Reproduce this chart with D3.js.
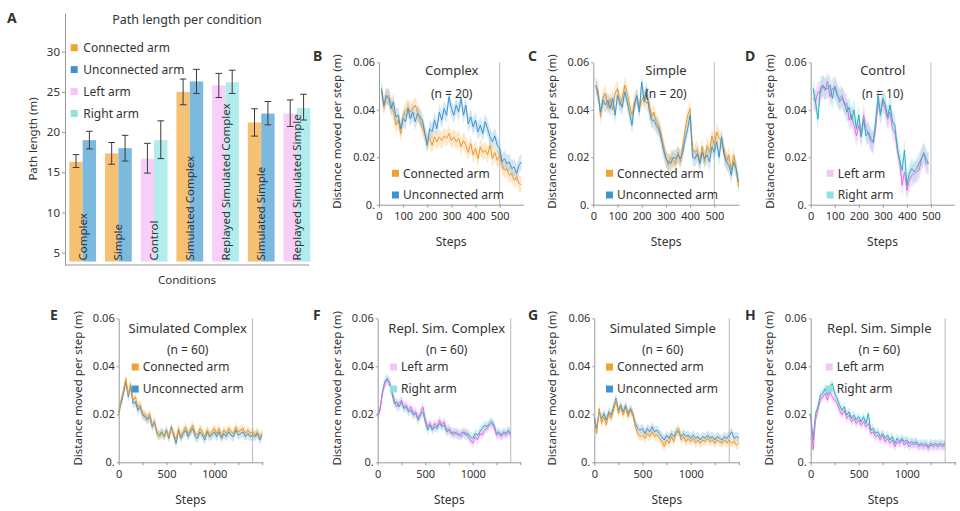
<!DOCTYPE html>
<html>
<head>
<meta charset="utf-8">
<script src="https://cdn.jsdelivr.net/npm/d3@7"></script>
<style>
  body { margin: 0; background: #fff; }
  text { font-family: "Noto Sans", sans-serif; fill: #333; }
</style>
</head>
<body>
<svg id="fig" width="960" height="511"></svg>
<script>
// ---------------- panel A : path length per condition
var conditions = ["Complex", "Simple", "Control", "Simulated Complex",
  "Replayed Simulated Complex", "Simulated Simple", "Replayed Simulated Simple"];
var pairKind = ["cu", "cu", "lr", "cu", "lr", "cu", "lr"];
var firstMean  = [16.3, 17.35, 16.7, 25.0, 25.8, 21.2, 22.3];
var firstLo    = [15.6, 16.0, 14.9, 23.4, 24.3, 19.5, 20.7];
var firstHi    = [17.2, 18.7, 18.6, 26.6, 27.3, 22.9, 24.0];
var secondMean = [19.0, 18.0, 19.0, 26.3, 26.2, 22.3, 23.0];
var secondLo   = [17.9, 16.4, 16.7, 24.8, 24.8, 20.9, 21.5];
var secondHi   = [20.1, 19.6, 21.4, 27.8, 27.7, 23.8, 24.7];
var pathTicks  = [5, 10, 15, 20, 25, 30];

// ---------------- panels B-D : distance per step (every 10 steps)
var stepsB = d3.range(10, 591, 10);
var complexConnected = [0.048,0.041,0.045,0.046,0.0427,0.039,0.0335,0.0356,0.030,0.037,
  0.040,0.041,0.039,0.0405,0.042,0.039,0.036,0.032,0.030,0.0265,
  0.028,0.025,0.0286,0.0265,0.0286,0.027,0.029,0.028,0.030,0.027,
  0.0286,0.0265,0.028,0.0244,0.027,0.025,0.022,0.0258,0.021,0.0237,
  0.0194,0.0244,0.022,0.023,0.021,0.025,0.0194,0.022,0.0187,0.021,
  0.0166,0.0145,0.0152,0.0124,0.0131,0.0103,0.0117,0.0089,0.0085];
var complexUnconnected = [0.049,0.042,0.046,0.0448,0.0405,0.0434,0.037,0.0377,0.032,0.0363,
  0.035,0.0405,0.0363,0.039,0.035,0.0384,0.037,0.0356,0.030,0.025,
  0.032,0.0307,0.0356,0.032,0.039,0.0356,0.0405,0.0377,0.0455,0.0405,
  0.0377,0.042,0.039,0.0448,0.0377,0.042,0.034,0.037,0.0328,0.0356,
  0.0307,0.0335,0.030,0.035,0.032,0.0286,0.0265,0.029,0.025,0.0237,
  0.018,0.0194,0.0173,0.018,0.0152,0.0159,0.0131,0.0166,0.018];

var stepsC = d3.range(10, 601, 10);
var simpleConnected = [0.050,0.0483,0.037,0.0448,0.047,0.041,0.0448,0.040,0.047,0.049,
  0.042,0.0448,0.0504,0.047,0.042,0.0377,0.0434,0.0455,0.0405,0.044,
  0.046,0.0427,0.0434,0.037,0.039,0.035,0.0335,0.030,0.025,0.020,
  0.0166,0.020,0.0187,0.0173,0.022,0.018,0.025,0.032,0.0377,0.0405,
  0.0237,0.022,0.023,0.018,0.0244,0.018,0.025,0.022,0.029,0.025,
  0.0307,0.028,0.0265,0.0237,0.018,0.021,0.0145,0.021,0.0152,0.0075];
var simpleUnconnected = [0.0504,0.046,0.039,0.044,0.042,0.044,0.0405,0.0448,0.0377,0.046,
  0.0434,0.041,0.0476,0.0434,0.0384,0.0335,0.042,0.046,0.039,0.0518,
  0.0434,0.049,0.0405,0.0356,0.0356,0.0335,0.032,0.028,0.023,0.0194,
  0.018,0.0173,0.020,0.0194,0.021,0.0194,0.022,0.028,0.032,0.0377,
  0.020,0.0194,0.0215,0.0173,0.022,0.0194,0.021,0.018,0.0244,0.022,
  0.0265,0.020,0.0286,0.021,0.018,0.0166,0.0124,0.018,0.0152,0.0096];

var stepsD = d3.range(10, 491, 10);
var controlLeft = [0.0448,0.0434,0.0476,0.047,0.050,0.048,0.052,0.0455,0.049,0.049,
  0.046,0.0448,0.046,0.042,0.0427,0.0356,0.0377,0.0335,0.029,0.0335,
  0.029,0.0377,0.032,0.030,0.0265,0.026,0.032,0.0434,0.039,0.0434,
  0.0405,0.036,0.039,0.032,0.0307,0.0237,0.018,0.0082,0.0138,0.006,
  0.0103,0.0124,0.0131,0.0138,0.0145,0.0187,0.022,0.0173,0.0173];
var controlRight = [0.049,0.0434,0.036,0.049,0.0504,0.049,0.049,0.0504,0.0448,0.050,
  0.047,0.0434,0.0448,0.0434,0.039,0.041,0.0356,0.040,0.032,0.0377,
  0.0286,0.036,0.029,0.0307,0.028,0.0265,0.035,0.046,0.0377,0.0448,
  0.042,0.037,0.042,0.035,0.0335,0.0237,0.0187,0.0145,0.023,0.0082,
  0.0131,0.0152,0.0138,0.0152,0.0173,0.0194,0.0215,0.0194,0.0173];

// ---------------- panels E-H : simulated runs (every 25 steps)
var stepsLong = d3.range(0, 1501, 25);
var simComplexConnected = [0.0203,0.0259,0.030,0.0349,0.028,0.0328,0.0259,0.0273,0.0231,0.0238,
  0.0203,0.0197,0.0183,0.0203,0.0155,0.0162,0.0127,0.0107,0.012,0.0113,
  0.0127,0.0107,0.0141,0.012,0.0093,0.0141,0.0107,0.0127,0.0148,0.012,
  0.0134,0.0155,0.012,0.0113,0.0141,0.0127,0.0107,0.0134,0.0113,0.0127,
  0.0141,0.012,0.0141,0.0107,0.0134,0.012,0.0141,0.0127,0.012,0.0148,
  0.0127,0.0134,0.0141,0.012,0.0134,0.012,0.0127,0.0113,0.0127,0.0107,
  0.012];
var simComplexUnconnected = [0.021,0.0245,0.0287,0.0335,0.0273,0.0314,0.0245,0.0252,0.0217,0.0231,
  0.0197,0.019,0.0176,0.019,0.0148,0.0169,0.012,0.0113,0.0127,0.0107,
  0.0134,0.010,0.0148,0.0113,0.0079,0.0134,0.010,0.012,0.0134,0.0107,
  0.0127,0.0141,0.0107,0.010,0.0127,0.0113,0.0093,0.0127,0.0107,0.0113,
  0.0127,0.0107,0.0127,0.010,0.012,0.0107,0.0127,0.0113,0.0107,0.0134,
  0.0113,0.012,0.0127,0.0107,0.012,0.0107,0.0113,0.0107,0.012,0.0093,
  0.0113];
var replComplexLeft = [0.019,0.0217,0.0287,0.0328,0.0342,0.0335,0.030,0.0259,0.0231,0.0245,
  0.0259,0.0231,0.0238,0.0217,0.0231,0.0203,0.021,0.0183,0.0203,0.0231,
  0.0183,0.0148,0.0162,0.0141,0.0162,0.0148,0.0176,0.0155,0.0169,0.0134,
  0.0141,0.0127,0.0113,0.0127,0.012,0.0107,0.012,0.0127,0.0107,0.0093,
  0.0079,0.0107,0.0093,0.012,0.0113,0.0134,0.0141,0.0155,0.0162,0.0148,
  0.0113,0.012,0.0107,0.012,0.0113,0.0127,0.0113];
var replComplexRight = [0.0197,0.0224,0.0294,0.0335,0.0349,0.0328,0.0287,0.0245,0.0252,0.0231,
  0.0252,0.0224,0.0231,0.021,0.0217,0.0197,0.0203,0.0176,0.0197,0.021,
  0.0169,0.0134,0.0155,0.0134,0.0148,0.0141,0.0162,0.0148,0.0155,0.0127,
  0.0134,0.012,0.0127,0.012,0.0113,0.012,0.0127,0.0113,0.012,0.0107,
  0.010,0.012,0.0113,0.0127,0.0141,0.0155,0.0148,0.0162,0.0169,0.0155,
  0.012,0.0127,0.0113,0.0127,0.012,0.0134,0.012];
var simSimpleConnected = [0.0176,0.012,0.0224,0.0162,0.019,0.0155,0.0203,0.0183,0.0217,0.0259,
  0.0203,0.0231,0.0197,0.0231,0.019,0.0217,0.0197,0.0148,0.012,0.0107,
  0.0113,0.010,0.012,0.0107,0.0127,0.0107,0.0113,0.010,0.0086,0.0065,
  0.0093,0.0079,0.0107,0.0086,0.0127,0.0141,0.0093,0.0107,0.0086,0.010,
  0.0086,0.010,0.0079,0.0093,0.0079,0.0093,0.0086,0.010,0.0086,0.0093,
  0.0079,0.0093,0.0086,0.0079,0.0093,0.0079,0.0093,0.0079,0.0086,0.0072,
  0.0079];
var simSimpleUnconnected = [0.019,0.0141,0.021,0.0183,0.0203,0.0176,0.021,0.0197,0.0231,0.0266,
  0.0217,0.0238,0.021,0.0238,0.0203,0.0224,0.0203,0.0162,0.0141,0.0134,
  0.0141,0.012,0.0141,0.0127,0.0148,0.0127,0.0134,0.012,0.0107,0.0093,
  0.0113,0.010,0.012,0.0107,0.0127,0.0127,0.0107,0.012,0.0107,0.0113,
  0.010,0.0113,0.010,0.0107,0.0093,0.0107,0.010,0.0113,0.010,0.0107,
  0.0093,0.0107,0.010,0.0093,0.0107,0.010,0.0113,0.0127,0.010,0.0107,
  0.010];
var replSimpleLeft = [0.0197,0.0051,0.0176,0.0217,0.0259,0.0273,0.0287,0.0259,0.0294,0.0273,
  0.0259,0.0245,0.0217,0.0197,0.0217,0.0183,0.0197,0.0169,0.0183,0.0162,
  0.0176,0.0155,0.0169,0.0148,0.0162,0.012,0.0127,0.0107,0.0113,0.0093,
  0.0113,0.0086,0.010,0.0079,0.0093,0.0065,0.0086,0.0079,0.0093,0.0072,
  0.0086,0.0065,0.0079,0.0072,0.0079,0.0065,0.0072,0.0065,0.0072,0.0058,
  0.0072,0.0065,0.0072,0.0065,0.0072,0.0065,0.0072];
var replSimpleRight = [0.0203,0.0093,0.0203,0.0231,0.028,0.0287,0.0307,0.028,0.0314,0.0328,
  0.0287,0.0266,0.0238,0.0217,0.0231,0.0197,0.021,0.0183,0.0197,0.0176,
  0.019,0.0169,0.019,0.0162,0.0203,0.0134,0.0141,0.012,0.0127,0.0107,
  0.012,0.010,0.0113,0.0093,0.0107,0.0079,0.010,0.0086,0.010,0.0086,
  0.0093,0.0079,0.0086,0.0079,0.0086,0.0072,0.0079,0.0072,0.0079,0.0065,
  0.0079,0.0072,0.0079,0.0072,0.0079,0.0072,0.0079];

// half width of the shaded bands, per panel
var bandHalf = { B: 0.0035, C: 0.0035, D: 0.0045, E: 0.002, F: 0.002, G: 0.002, H: 0.002 };
var distTicks = [0, 0.02, 0.04, 0.06];

// colours
var arm = {
  connected:   { name: "Connected arm",   line: "#eb9a2a", band: "rgba(245,176,72,0.28)",  swatch: "#f0a232", bar: "#f6c173" },
  unconnected: { name: "Unconnected arm", line: "#3d95cf", band: "rgba(92,166,216,0.28)",  swatch: "#3f93cf", bar: "#7cb9de" },
  left:        { name: "Left arm",        line: "#e36ee3", band: "rgba(240,150,240,0.30)", swatch: "#f6c4f6", bar: "#f8cff8" },
  right:       { name: "Right arm",       line: "#27b3bd", band: "rgba(110,214,214,0.30)", swatch: "#93e0e0", bar: "#b2ecec" }
};

var svg = d3.select("#fig");

function styleAxis(g, size) {
  g.attr("font-family", null).attr("font-size", null);
  g.select(".domain").attr("stroke", "#999");
  g.selectAll(".tick line").attr("stroke", "#999");
  g.selectAll(".tick text").style("font-size", size + "px").attr("fill", "#333");
}

function letter(t, x, y) {
  svg.append("text").attr("x", x).attr("y", y).text(t)
    .style("font-size", "14px").style("font-weight", "bold").attr("fill", "#111");
}

// ================= panel A
(function () {
  var y = d3.scaleLinear().domain([3.47, 34.81]).range([265, 13]);
  var x = d3.scaleBand().domain(conditions).range([69.3, 310.3]).paddingInner(0.25);
  var inner = d3.scaleBand().domain([0, 1]).range([0, x.bandwidth()]);
  var barBase = 3.9;

  var rows = conditions.map(function (c, i) {
    var k = pairKind[i] === "cu" ? ["connected", "unconnected"] : ["left", "right"];
    return { c: c, bars: [
      { k: k[0], m: firstMean[i],  lo: firstLo[i],  hi: firstHi[i],  j: 0 },
      { k: k[1], m: secondMean[i], lo: secondLo[i], hi: secondHi[i], j: 1 }] };
  });

  var grp = svg.append("g").selectAll("g").data(rows).enter().append("g")
    .attr("transform", function (d) { return "translate(" + x(d.c) + ",0)"; });

  grp.selectAll("rect").data(function (d) { return d.bars; }).enter().append("rect")
    .attr("x", function (d) { return inner(d.j); })
    .attr("width", inner.bandwidth())
    .attr("y", function (d) { return y(d.m); })
    .attr("height", function (d) { return y(barBase) - y(d.m); })
    .attr("fill", function (d) { return arm[d.k].bar; });

  // error bars
  var eb = grp.selectAll("g.eb").data(function (d) { return d.bars; }).enter().append("g")
    .attr("class", "eb")
    .attr("transform", function (d) { return "translate(" + (inner(d.j) + inner.bandwidth() / 2) + ",0)"; })
    .attr("stroke", "#3a3a3a").attr("stroke-width", 1);
  eb.append("line").attr("x1", 0).attr("x2", 0)
    .attr("y1", function (d) { return y(d.lo); }).attr("y2", function (d) { return y(d.hi); });
  eb.append("line").attr("x1", -3.3).attr("x2", 3.3)
    .attr("y1", function (d) { return y(d.lo); }).attr("y2", function (d) { return y(d.lo); });
  eb.append("line").attr("x1", -3.3).attr("x2", 3.3)
    .attr("y1", function (d) { return y(d.hi); }).attr("y2", function (d) { return y(d.hi); });

  // condition names written up the bars
  grp.append("text")
    .attr("transform", "translate(" + (x.bandwidth() / 2) + "," + (y(barBase) - 1) + ") rotate(-90)")
    .attr("dy", "0.35em")
    .style("font-size", "11.5px").attr("fill", "#222")
    .text(function (d) { return d.c; });

  var ya = svg.append("g").attr("transform", "translate(65,0)")
    .call(d3.axisLeft(y).tickValues(pathTicks).tickSize(3).tickPadding(2).tickSizeOuter(0));
  styleAxis(ya, 11.5);
  svg.append("line").attr("x1", 65).attr("x2", 309).attr("y1", y(3.47)).attr("y2", y(3.47))
    .attr("stroke", "#999");

  svg.append("text").attr("x", 187).attr("y", 24).attr("text-anchor", "middle")
    .style("font-size", "12.5px").text("Path length per condition");
  svg.append("text").attr("x", 187).attr("y", 284).attr("text-anchor", "middle")
    .style("font-size", "11.5px").text("Conditions");
  svg.append("text").attr("transform", "translate(33,139) rotate(-90)")
    .attr("text-anchor", "middle").attr("dy", "0.35em")
    .style("font-size", "11.5px").text("Path length (m)");

  var leg = ["connected", "unconnected", "left", "right"];
  leg.forEach(function (k, i) {
    var cy = 47.7 + i * 21.9;
    svg.append("rect").attr("x", 70.7).attr("y", cy - 3.5).attr("width", 7).attr("height", 7)
      .attr("fill", arm[k].swatch);
    svg.append("text").attr("x", 83.3).attr("y", cy).attr("dy", "0.35em")
      .style("font-size", "12px").text(arm[k].name);
  });
  letter("A", 7, 23);
})();

// ================= line panels
var top1 = { top: 62.3, bottom: 204.7, titleY: 70.7, nY: 93.3, legY: [173.3, 195], stepsY: 241.7, letterY: 61 };
var top2 = { top: 318.3, bottom: 462.3, titleY: 328.3, nY: 350, legY: [367, 389], stepsY: 499.3, letterY: 320 };

var panels = [
  { id: "B", row: top1, left: 379, right: 523.3, xmax: 598, ticks: d3.range(0, 501, 100), labels: d3.range(0, 501, 100), vline: 500,
    title: "Complex", n: "(n = 20)", titleX: 451.7, legX: 392, letterX: 313, ylabX: 337.3,
    steps: stepsB, series: [["connected", complexConnected], ["unconnected", complexUnconnected]] },
  { id: "C", row: top1, left: 593.3, right: 739, xmax: 602, ticks: d3.range(0, 501, 100), labels: d3.range(0, 501, 100), vline: 500,
    title: "Simple", n: "(n = 20)", titleX: 666, legX: 606, letterX: 528, ylabX: 551.7,
    steps: stepsC, series: [["connected", simpleConnected], ["unconnected", simpleUnconnected]] },
  { id: "D", row: top1, left: 810.7, right: 954.3, xmax: 597, ticks: d3.range(0, 501, 100), labels: d3.range(0, 501, 100), vline: 500,
    title: "Control", n: "(n = 10)", titleX: 882.7, legX: 826.7, letterX: 745, ylabX: 770,
    steps: stepsD, series: [["left", controlLeft], ["right", controlRight]] },
  { id: "E", row: top2, left: 118.7, right: 262.7, xmax: 1506, ticks: d3.range(0, 1501, 250), labels: [0, 500, 1000], vline: 1400,
    title: "Simulated Complex", n: "(n = 60)", titleX: 187.7, legX: 131.7, letterX: 50, ylabX: 78.3,
    steps: stepsLong, series: [["unconnected", simComplexUnconnected], ["connected", simComplexConnected]] },
  { id: "F", row: top2, left: 377.7, right: 521, xmax: 1508, ticks: d3.range(0, 1501, 250), labels: [0, 500, 1000], vline: 1400,
    title: "Repl. Sim. Complex", n: "(n = 60)", titleX: 446.7, legX: 390, letterX: 313, ylabX: 336.7,
    steps: stepsLong, series: [["right", replComplexRight], ["left", replComplexLeft]] },
  { id: "G", row: top2, left: 594.3, right: 739.3, xmax: 1504, ticks: d3.range(0, 1501, 250), labels: [0, 500, 1000], vline: 1400,
    title: "Simulated Simple", n: "(n = 60)", titleX: 662.7, legX: 606, letterX: 528, ylabX: 551.7,
    steps: stepsLong, series: [["unconnected", simSimpleUnconnected], ["connected", simSimpleConnected]] },
  { id: "H", row: top2, left: 810.7, right: 955.7, xmax: 1510, ticks: d3.range(0, 1501, 250), labels: [0, 500, 1000], vline: 1400,
    title: "Repl. Sim. Simple", n: "(n = 60)", titleX: 879.3, legX: 825.7, letterX: 745, ylabX: 769,
    steps: stepsLong, series: [["right", replSimpleRight], ["left", replSimpleLeft]] }
];

var legendOrder = ["connected", "unconnected", "left", "right"];

panels.forEach(function (p) {
  var r = p.row;
  var x = d3.scaleLinear().domain([0, p.xmax]).range([p.left, p.right]);
  var y = d3.scaleLinear().domain([0, 0.06]).range([r.bottom, r.top]);
  var h = bandHalf[p.id];
  var g = svg.append("g");

  g.append("line").attr("x1", x(p.vline)).attr("x2", x(p.vline))
    .attr("y1", y(0)).attr("y2", y(0.06)).attr("stroke", "#bbb");

  var pts = p.series.map(function (s) {
    return { k: s[0], d: s[1].map(function (v, i) { return [p.steps[i], v]; }) };
  });
  var area = d3.area().x(function (d) { return x(d[0]); })
    .y0(function (d) { return y(Math.max(0, d[1] - h)); })
    .y1(function (d) { return y(d[1] + h); });
  var line = d3.line().x(function (d) { return x(d[0]); }).y(function (d) { return y(d[1]); });

  pts.forEach(function (s) {
    g.append("path").attr("d", area(s.d)).attr("fill", arm[s.k].band);
  });
  pts.forEach(function (s) {
    g.append("path").attr("d", line(s.d)).attr("fill", "none")
      .attr("stroke", arm[s.k].line).attr("stroke-width", 1);
  });

  var ax = g.append("g").attr("transform", "translate(0," + y(0) + ")")
    .call(d3.axisBottom(x).tickValues(p.ticks).tickSize(3).tickPadding(5).tickSizeOuter(0)
      .tickFormat(function (d) { return p.labels.indexOf(d) >= 0 ? d : ""; }));
  styleAxis(ax, 11);
  var ay = g.append("g").attr("transform", "translate(" + x(0) + ",0)")
    .call(d3.axisLeft(y).tickValues(distTicks).tickSize(2).tickPadding(2).tickSizeOuter(0)
      .tickFormat(function (d) { return d === 0 ? "0." : d.toFixed(2); }));
  styleAxis(ay, 11);

  g.append("text").attr("x", p.titleX).attr("y", r.titleY).attr("dy", "0.35em")
    .attr("text-anchor", "middle").style("font-size", "13px").text(p.title);
  g.append("text").attr("x", p.titleX).attr("y", r.nY).attr("dy", "0.35em")
    .attr("text-anchor", "middle").style("font-size", "12px").text(p.n);

  // legend keeps connected/left first
  var legKeys = p.series.map(function (s) { return s[0]; })
    .sort(function (a, b) { return legendOrder.indexOf(a) - legendOrder.indexOf(b); });
  legKeys.forEach(function (k, i) {
    var cy = r.legY[i];
    g.append("rect").attr("x", p.legX).attr("y", cy - 3.5).attr("width", 7).attr("height", 7)
      .attr("fill", arm[k].swatch);
    g.append("text").attr("x", p.legX + 11).attr("y", cy).attr("dy", "0.35em")
      .style("font-size", "12px").text(arm[k].name);
  });

  g.append("text").attr("x", (p.left + p.right) / 2).attr("y", r.stepsY).attr("dy", "0.35em")
    .attr("text-anchor", "middle").style("font-size", "12px").text("Steps");
  g.append("text").attr("transform", "translate(" + p.ylabX + "," + ((r.top + r.bottom) / 2 - 2) + ") rotate(-90)")
    .attr("text-anchor", "middle").attr("dy", "0.35em")
    .style("font-size", "11.5px").text("Distance moved per step (m)");
  letter(p.id, p.letterX, r.letterY);
});
</script>
</body>
</html>
